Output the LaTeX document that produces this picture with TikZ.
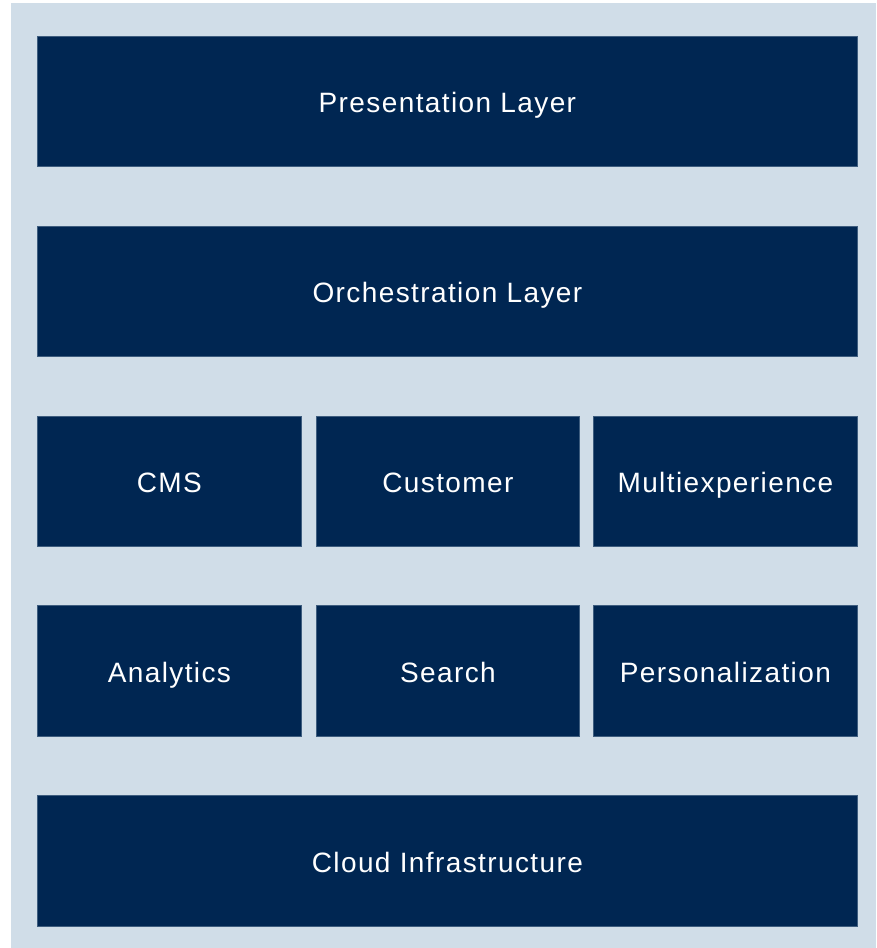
\documentclass[tikz,border=0pt]{standalone}
\usepackage{fontspec}
\setmainfont[LetterSpace=5]{Liberation Sans}
\definecolor{panel}{HTML}{D0DDE8}
\definecolor{navy}{HTML}{002652}
\begin{document}
\begin{tikzpicture}[x=1pt,y=-1pt,
  layer/.style={fill=navy, draw=navy!70!panel, line width=0.8pt, text=white, font=\fontsize{28}{32}\selectfont, inner sep=0pt, text height=23pt, text depth=0pt, anchor=north west}]
\useasboundingbox (0,0) rectangle (876,948);
\fill[white] (0,0) rectangle (876,948);
\fill[panel] (11,3) rectangle (876,948);
\node[layer, minimum width=820pt, minimum height=130pt] (pres) at (37,36) {Presentation Layer};
\node[layer, minimum width=820pt, minimum height=130pt] (orch) at (37,226) {Orchestration Layer};
\node[layer, minimum width=264pt, minimum height=130pt] (cms) at (37,416) {CMS};
\node[layer, minimum width=263pt, minimum height=130pt] (cust) at (316,416) {Customer};
\node[layer, minimum width=264pt, minimum height=130pt] (multi) at (593,416) {Multiexperience};
\node[layer, minimum width=264pt, minimum height=131pt] (anal) at (37,605) {Analytics};
\node[layer, minimum width=263pt, minimum height=131pt] (search) at (316,605) {Search};
\node[layer, minimum width=264pt, minimum height=131pt] (pers) at (593,605) {Personalization};
\node[layer, minimum width=820pt, minimum height=131pt] (cloud) at (37,795) {Cloud Infrastructure};
\end{tikzpicture}
\end{document}
